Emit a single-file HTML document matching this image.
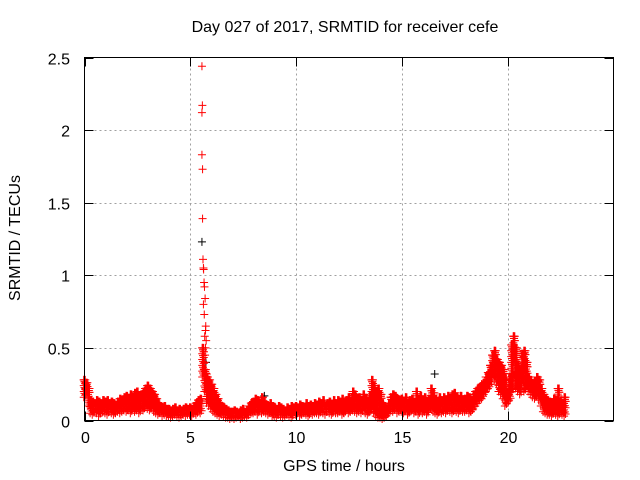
<!DOCTYPE html>
<html><head><meta charset="utf-8"><style>
html,body{margin:0;padding:0;background:#fff}
svg{display:block;font-family:"Liberation Sans",sans-serif}
</style></head><body>
<svg id="chart" width="640" height="480" viewBox="0 0 640 480">
<rect width="640" height="480" fill="#fff"/>
<text x="345" y="32" font-size="16" text-anchor="middle">Day 027 of 2017, SRMTID for receiver cefe</text>
<text transform="translate(20,238) rotate(-90)" font-size="16" text-anchor="middle">SRMTID / TECUs</text>
<text x="344" y="471" font-size="16" text-anchor="middle">GPS time / hours</text>
<g id="grid"></g>
<g id="marks"></g>
<rect x="84.5" y="57.5" width="529" height="363" fill="none" stroke="#000" stroke-width="1"/>
<g id="ticks"></g>
</svg>
<script>
const xTicks=[0,5,10,15,20];
const yTicks=[0,0.5,1,1.5,2,2.5];
const yTickLabels=["0","0.5","1","1.5","2","2.5"];
const tStep=0.1;
const upper=[.28,.26,.22,.14,.13,.12,.14,.13,.12,.14,
.13,.14,.12,.13,.12,.11,.13,.15,.14,.16,
.17,.15,.18,.16,.19,.2,.17,.18,.2,.22,
.24,.22,.2,.18,.15,.12,.1,.09,.1,.08,
.08,.07,.08,.09,.07,.08,.07,.08,.09,.08,
.09,.08,.1,.12,.14,.15,.5,.35,.3,.28,
.25,.22,.18,.15,.12,.1,.09,.08,.07,.06,
.06,.07,.06,.05,.07,.08,.06,.07,.1,.12,
.13,.15,.14,.12,.16,.13,.11,.1,.12,.1,
.09,.08,.1,.09,.08,.07,.09,.08,.1,.09,
.1,.09,.11,.1,.09,.12,.1,.11,.1,.12,
.11,.13,.12,.14,.1,.12,.13,.11,.14,.12,
.14,.13,.15,.12,.14,.16,.13,.2,.18,.15,
.16,.14,.18,.15,.13,.17,.28,.24,.2,.22,
.18,.12,.1,.08,.12,.16,.18,.17,.15,.14,
.15,.13,.16,.12,.14,.15,.13,.2,.15,.17,
.14,.16,.13,.15,.22,.19,.15,.13,.16,.14,
.16,.14,.17,.15,.18,.19,.16,.15,.17,.14,
.15,.17,.16,.14,.18,.2,.22,.23,.25,.26,
.3,.33,.38,.45,.48,.42,.4,.38,.35,.3,
.2,.3,.52,.58,.5,.38,.35,.46,.48,.4,
.3,.28,.25,.27,.3,.28,.22,.18,.15,.14,
.13,.12,.15,.14,.22,.13,.12,.16];
const lower=[.16,.18,.10,.05,.04,.06,.05,.03,.05,.06,
.05,.04,.06,.05,.04,.05,.06,.05,.06,.07,
.06,.07,.05,.08,.06,.07,.05,.08,.07,.09,
.08,.07,.09,.06,.05,.04,.05,.03,.04,.03,
.03,.02,.03,.04,.03,.02,.03,.04,.03,.04,
.04,.03,.05,.04,.06,.05,.3,.2,.12,.1,
.08,.06,.05,.04,.03,.04,.03,.02,.02,.01,
.02,.01,.02,.03,.01,.02,.03,.02,.04,.05,
.05,.06,.04,.07,.05,.06,.05,.04,.05,.03,
.03,.02,.04,.03,.02,.03,.04,.03,.02,.04,
.04,.05,.03,.04,.05,.04,.03,.05,.04,.05,
.05,.04,.06,.05,.04,.06,.05,.04,.06,.05,
.05,.06,.04,.05,.07,.05,.06,.07,.06,.05,
.06,.05,.07,.05,.04,.06,.08,.05,.03,.02,
.02,.01,.02,.03,.05,.07,.06,.08,.05,.06,
.06,.05,.07,.04,.06,.07,.05,.06,.04,.07,
.05,.06,.04,.07,.08,.06,.05,.04,.06,.05,
.06,.05,.07,.06,.05,.07,.06,.05,.07,.06,
.06,.07,.05,.06,.08,.1,.12,.14,.15,.18,
.2,.22,.25,.3,.28,.25,.2,.18,.15,.1,
.12,.14,.2,.4,.22,.2,.18,.25,.2,.22,
.2,.18,.16,.15,.17,.14,.1,.06,.05,.04,
.04,.03,.05,.04,.03,.05,.04,.03];
const spikeT=[5.55,5.57,5.55,5.55,5.58,5.58,5.6,5.62,5.63,5.65,5.67,5.62,5.70,5.66,5.73,5.72,5.68,5.75,5.72,5.70,5.68,5.65,5.78,5.8];
const spikeV=[2.44,2.17,2.12,1.83,1.73,1.39,1.11,1.05,1.04,0.95,0.92,0.80,0.84,0.73,0.65,0.62,0.58,0.55,0.50,0.45,0.40,0.35,0.32,0.28];
const blackT=[5.55,5.74,8.5,16.55,19.1,0.05];
const blackV=[1.23,0.40,0.17,0.32,0.25,0.22];

const X0=84.5,X1=613.5,Y0=420.5,Y1=57.5;
const xs=t=>X0+t/25*(X1-X0);
const ys=v=>Y0-v/2.5*(Y0-Y1);
const NS="http://www.w3.org/2000/svg";
const grid=document.getElementById('grid'),ticks=document.getElementById('ticks'),marks=document.getElementById('marks');
function line(p,x1,y1,x2,y2,st,dash){const l=document.createElementNS(NS,'line');l.setAttribute('x1',x1);l.setAttribute('y1',y1);l.setAttribute('x2',x2);l.setAttribute('y2',y2);l.setAttribute('stroke',st);if(dash)l.setAttribute('stroke-dasharray',dash);p.appendChild(l);return l;}
function txt(p,x,y,s,anc){const t=document.createElementNS(NS,'text');t.setAttribute('x',x);t.setAttribute('y',y);t.setAttribute('font-size','16');t.setAttribute('text-anchor',anc);t.textContent=s;p.appendChild(t);return t;}
xTicks.forEach(v=>{const x=Math.round(xs(v))+0.5;
 if(v>0){const g=line(grid,x,Y0,x,Y1,'#a0a0a0','2,3');}
 line(ticks,x,Y0,x,Y0-9,'#000');line(ticks,x,Y1,x,Y1+9,'#000');
 const t=txt(ticks,x,443,String(v),'middle');
 
 });
yTicks.forEach((v,i)=>{const y=Math.round(ys(v))+0.5;
 if(v>0&&v<2.5){const g=line(grid,X0,y,X1,y,'#a0a0a0','2,3');}
 line(ticks,X0,y,X0+9,y,'#000');line(ticks,X1,y,X1-9,y,'#000');
 const t=txt(ticks,70,y+6,yTickLabels[i],'end');
 
 });
function plus(x,y,c,name){const p=document.createElementNS(NS,'path');p.setAttribute('d',`M${x-4},${y}h8M${x},${y-4}v8`);p.setAttribute('stroke',c);p.setAttribute('fill','none');
 
 
 marks.appendChild(p);}
blackT.forEach((t,i)=>plus(xs(t),ys(blackV[i]),'#000','black-point'));
const offs=[-0.035,0,0.035];
upper.forEach((u,i)=>{const t=i*tStep,lo=lower[i];
 offs.forEach((o,k)=>{const x=xs(t+o);const yu=ys(u),yl=ys(lo);
  const n=Math.max(1,Math.round((yl-yu)/6));
  for(let j=0;j<=n;j++){plus(x,yu+(yl-yu)*((j+k*0.33)%(n+0.001))/n,'#f00','srmtid-point');}
  plus(x,yu,'#f00','srmtid-point');});});
spikeT.forEach((t,i)=>plus(xs(t),ys(spikeV[i]),'#f00','srmtid-spike-point'));
</script>
</body></html>
